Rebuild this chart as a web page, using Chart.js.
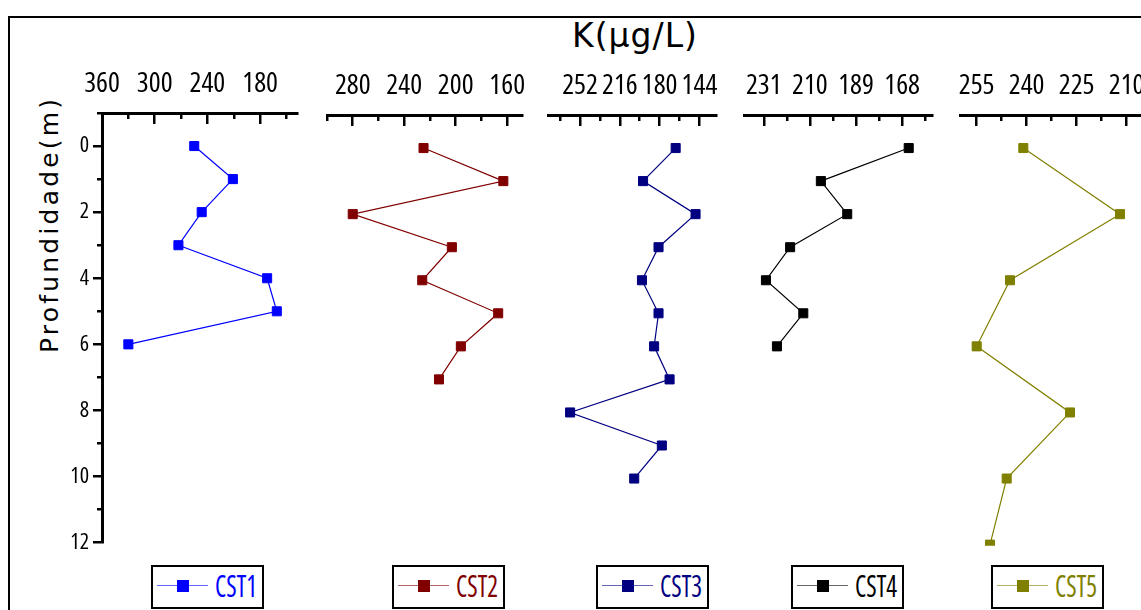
<!DOCTYPE html>
<html lang="pt">
<head>
<meta charset="utf-8">
<title>K (µg/L) x Profundidade</title>
<script src="https://cdn.jsdelivr.net/npm/chart.js@4.4.1/dist/chart.umd.min.js"></script>
<style>
  html, body { margin: 0; padding: 0; background: #fff; }
  body { position: relative; width: 1141px; height: 610px; overflow: hidden; }
  canvas { position: absolute; top: 0; }
  #moldura { position: absolute; left: 8px; top: 16px; width: 1400px; height: 800px; border-left: 2px solid #000; border-top: 2px solid #000; }
  #titulo { position: absolute; left: 435px; top: 19px; width: 400px; text-align: center; font: 33px 'DejaVu Sans', sans-serif; line-height: 1; letter-spacing: 1px; color: #000; }
  #eixoY { position: absolute; left: 37px; top: 353px; transform: rotate(-90deg); transform-origin: 0 0; font: 25px 'DejaVu Sans', sans-serif; line-height: 1; letter-spacing: 3.2px; white-space: nowrap; color: #000; }
  .legenda { position: absolute; top: 565px; width: 113px; height: 44px; box-sizing: border-box; border: 2px solid #000; background: #fff; }
  .legenda .linha { position: absolute; left: 4px; top: 18px; width: 51px; height: 0; border-top: 1.5px solid; opacity: .6; }
  .legenda .quadro { position: absolute; left: 24px; top: 12.5px; width: 12px; height: 12px; }
  .legenda .texto { position: absolute; left: 62px; top: 2.8px; font-size: 31px; font-weight: 500; line-height: 1; white-space: nowrap; transform-origin: 0 0; }
</style>
</head>
<body>
<div id="moldura"></div>
<div id="titulo">K(μg/L)</div>
<div id="eixoY">Profundidade(m)</div>
<canvas id="g1"></canvas>
<canvas id="g2"></canvas>
<canvas id="g3"></canvas>
<canvas id="g4"></canvas>
<canvas id="g5"></canvas>
<script>
// profundidade (m) de cada amostra
const prof1 = [0, 1, 2, 3, 4, 5, 6];
const prof2 = [0, 1, 2, 3, 4, 5, 6, 7];
const prof3 = [0, 1, 2, 3, 4, 5, 6, 7, 8, 9, 10];
const prof4 = [0, 1, 2, 3, 4, 5, 6];
const prof5 = [0, 2, 4, 6, 8, 10, 12];

// K (µg/L) em cada ponto
const cst1 = [255, 211, 246.5, 273, 172, 161, 330];
const cst2 = [225, 163, 280, 203, 226, 167, 196, 213];
const cst3 = [165.5, 195, 147.5, 181, 196, 181, 185, 171, 261, 178, 203];
const cst4 = [165, 205, 193, 219, 230, 213, 225];
const cst5 = [241, 212, 245, 255, 227, 246, 251];

// ticks dos eixos
const ticksX1 = [360, 300, 240, 180];
const ticksX2 = [280, 240, 200, 160];
const ticksX3 = [252, 216, 180, 144];
const ticksX4 = [231, 210, 189, 168];
const ticksX5 = [255, 240, 225, 210];
const menoresX1 = [330, 270, 210, 150];
const menoresX2 = [300, 260, 220, 180];
const menoresX3 = [270, 234, 198, 162];
const menoresX4 = [220.5, 199.5, 178.5, 157.5];
const menoresX5 = [247.5, 232.5, 217.5, 202.5];
const ticksY = [0, 2, 4, 6, 8, 10, 12];
const menoresY = [-1, 1, 3, 5, 7, 9, 11];

const paineis = [
  { id: 'g1', nome: 'CST1', cor: '#0000FF', k: cst1, prof: prof1, min: 138, max: 360, ticks: ticksX1, menores: menoresX1, esquerda: 0, largura: 307, topo: 113, legenda: 151, eixoY: true },
  { id: 'g2', nome: 'CST2', cor: '#800000', k: cst2, prof: prof2, min: 148.5, max: 300, ticks: ticksX2, menores: menoresX2, esquerda: 317, largura: 215, topo: 115, legenda: 392 },
  { id: 'g3', nome: 'CST3', cor: '#000080', k: cst3, prof: prof3, min: 129, max: 281, ticks: ticksX3, menores: menoresX3, esquerda: 538, largura: 188, topo: 115, legenda: 596 },
  { id: 'g4', nome: 'CST4', cor: '#000000', k: cst4, prof: prof4, min: 154.4, max: 240, ticks: ticksX4, menores: menoresX4, esquerda: 734, largura: 208, topo: 115, legenda: 791 },
  { id: 'g5', nome: 'CST5', cor: '#808000', k: cst5, prof: prof5, min: 200, max: 260, ticks: ticksX5, menores: menoresX5, esquerda: 950, largura: 220, topo: 115, legenda: 991 }
];

// tenta achar uma face condensada (font-stretch) entre as fontes instaladas
function escolherFonte() {
  const ctx = document.createElement('canvas').getContext('2d');
  const medir = f => { ctx.font = f; return ctx.measureText('0123456789').width / 400; };
  let melhor = { weight: 'normal', family: "'Liberation Sans', Arial, sans-serif", ratio: medir("40px 'Liberation Sans', Arial, sans-serif") };
  const familias = ["'Open Sans'", "'Noto Sans'", "Roboto", "'DejaVu Sans'", "'Liberation Sans'", "Inter", "Lato"];
  for (const f of familias) {
    const normal = medir('40px ' + f + ', monospace');
    const cond = medir('500 condensed 40px ' + f + ', monospace');
    if (cond < normal * 0.93 && cond < melhor.ratio) {
      melhor = { weight: '500 condensed', family: f + ", 'Liberation Sans', sans-serif", ratio: cond };
    }
  }
  return melhor;
}

const fonte = escolherFonte();
console.log('fonte', fonte);
const tamX = Math.min(28, Math.round(12.2 / fonte.ratio));
const tamY = Math.min(22, Math.round(10.6 / fonte.ratio));

function criarGrafico(p) {
  const canvas = document.getElementById(p.id);
  canvas.width = p.largura;
  canvas.height = 560;
  canvas.style.left = p.esquerda + 'px';
  const altura = 13 * 33.05;
  const fonteX = { family: fonte.family, weight: fonte.weight, size: tamX };
  const fonteY = { family: fonte.family, weight: fonte.weight, size: tamY };

  const escalas = {
    x: {
      type: 'linear', position: 'top', reverse: true, min: p.min, max: p.max, weight: 1,
      // altura fixa e sem folga lateral extra para os rotulos
      afterFit: s => { s.height = p.topo; s.paddingLeft = 0; s.paddingRight = 0; },
      afterBuildTicks: s => { s.ticks = p.ticks.map(v => ({ value: v })); },
      grid: { drawOnChartArea: false, color: '#000', lineWidth: 2.5, tickLength: -11 },
      border: { color: '#000', width: 3 },
      ticks: { color: '#000', font: fonteX, padding: 39.5 - 0.6 * tamX, autoSkip: false, maxRotation: 0 }
    },
    xm: {
      type: 'linear', position: 'top', reverse: true, min: p.min, max: p.max, weight: 0,
      afterFit: s => { s.height = 0; s.paddingLeft = 0; s.paddingRight = 0; },
      afterBuildTicks: s => { s.ticks = p.menores.filter(v => v >= p.min && v <= p.max).map(v => ({ value: v })); },
      grid: { drawOnChartArea: false, color: '#000', lineWidth: 2.5, tickLength: -6 },
      border: { display: false },
      ticks: { display: false }
    },
    y: { type: 'linear', reverse: true, min: -1, max: 12, display: false }
  };
  if (p.eixoY) {
    escalas.y = {
      type: 'linear', position: 'left', reverse: true, min: -1, max: 12, weight: 1,
      afterFit: s => { s.width = 102; s.paddingTop = 0; s.paddingBottom = 0; },
      afterBuildTicks: s => { s.ticks = ticksY.map(v => ({ value: v })); },
      grid: { drawOnChartArea: false, color: '#000', lineWidth: 2.5, tickLength: 9 },
      border: { color: '#000', width: 3 },
      ticks: { color: '#000', font: fonteY, padding: 4 }
    };
    escalas.ym = {
      type: 'linear', position: 'left', reverse: true, min: -1, max: 12, weight: 0,
      afterFit: s => { s.width = 0; s.paddingTop = 0; s.paddingBottom = 0; },
      afterBuildTicks: s => { s.ticks = menoresY.map(v => ({ value: v })); },
      grid: { drawOnChartArea: false, color: '#000', lineWidth: 2.5, tickLength: 5 },
      border: { display: false },
      ticks: { display: false }
    };
  }

  return new Chart(canvas, {
    type: 'line',
    data: {
      datasets: [{
        label: p.nome,
        data: p.k.map((v, i) => ({ x: v, y: p.prof[i] })),
        borderColor: p.cor,
        backgroundColor: p.cor,
        borderWidth: 1.2,
        pointStyle: 'rect',
        pointRadius: 6.4,
        pointBorderWidth: 1,
        pointBorderColor: p.cor,
        pointBackgroundColor: p.cor,
        clip: { left: false, top: false, right: false, bottom: 1 },
        xAxisID: 'x',
        yAxisID: 'y'
      }]
    },
    options: {
      responsive: false,
      animation: false,
      devicePixelRatio: 1,
      events: [],
      layout: { padding: { left: p.eixoY ? 0 : 10, right: 10, top: 0, bottom: 560 - p.topo - altura } },
      scales: escalas,
      plugins: { legend: { display: false }, tooltip: { enabled: false }, title: { display: false } }
    }
  });
}

// legenda em html, montada a partir do dataset de cada grafico
function criarLegenda(grafico, esquerda) {
  const ds = grafico.data.datasets[0];
  const div = document.createElement('div');
  div.className = 'legenda';
  div.style.left = esquerda + 'px';
  div.innerHTML = `
    <span class="linha" style="border-color:${ds.borderColor}"></span>
    <span class="quadro" style="background:${ds.backgroundColor}"></span>
    <span class="texto" style="color:${ds.borderColor}; font-family:${fonte.family}; font-stretch:${fonte.weight.includes('condensed') ? 'condensed' : 'normal'}">${ds.label}</span>
  `;
  document.body.appendChild(div);
  const texto = div.querySelector('.texto');
  const w = texto.getBoundingClientRect().width;
  texto.style.transform = 'scaleX(' + (42 / w) + ')';
}

paineis.forEach(p => {
  const grafico = criarGrafico(p);
  criarLegenda(grafico, p.legenda);
});
</script>
</body>
</html>
